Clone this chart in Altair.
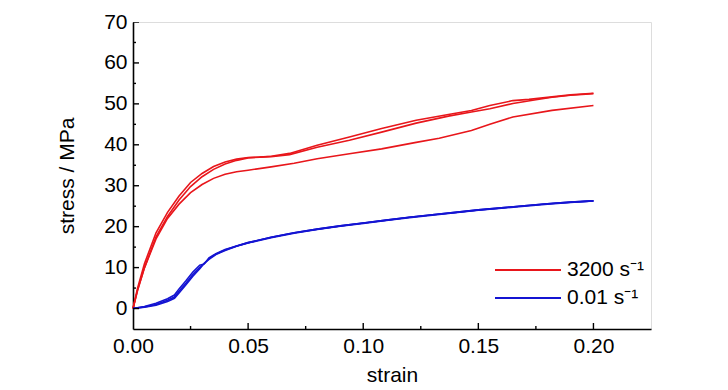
import altair as alt
import pandas as pd

# ---- data ----
red_a_strain = [0, 0.002, 0.005, 0.01, 0.015, 0.02, 0.025, 0.03, 0.035, 0.04, 0.045, 0.05, 0.055, 0.06, 0.068,
                0.08, 0.094, 0.108, 0.123, 0.137, 0.147, 0.155, 0.165, 0.172, 0.182, 0.19, 0.2]
red_a_stress = [0, 5, 11, 18.5, 23.5, 27.5, 30.8, 33, 34.7, 35.8, 36.5, 36.9, 37, 37.2, 37.9,
                39.9, 41.9, 44, 46, 47.4, 48.4, 49.6, 50.8, 51.1, 51.7, 52.2, 52.6]

red_b_strain = [0, 0.002, 0.005, 0.01, 0.015, 0.02, 0.025, 0.03, 0.035, 0.04, 0.045, 0.05, 0.055, 0.06, 0.068,
                0.08, 0.094, 0.108, 0.123, 0.137, 0.147, 0.155, 0.165, 0.175, 0.182, 0.19, 0.2]
red_b_stress = [0, 4.5, 10, 17.5, 22.5, 26.5, 29.8, 32.2, 34, 35.3, 36.2, 36.8, 37.0, 37.1, 37.6,
                39.4, 41.1, 43.1, 45.3, 47.0, 48, 48.8, 50.1, 51, 51.6, 52.1, 52.5]

red_c_strain = [0, 0.002, 0.005, 0.01, 0.015, 0.02, 0.025, 0.03, 0.035, 0.04, 0.045, 0.05, 0.06, 0.07,
                0.08, 0.094, 0.108, 0.123, 0.133, 0.147, 0.155, 0.165, 0.182, 0.2]
red_c_stress = [0, 4.5, 10, 17, 22, 25.5, 28.3, 30.3, 31.8, 32.8, 33.4, 33.8, 34.6, 35.5,
                36.6, 37.8, 39.0, 40.6, 41.6, 43.5, 45.0, 46.8, 48.4, 49.6]

blue_strain = [0, 0.005, 0.01, 0.015, 0.018, 0.02, 0.023, 0.026, 0.029, 0.031, 0.033, 0.036, 0.04, 0.045,
               0.05, 0.06, 0.07, 0.08, 0.09, 0.1, 0.11, 0.12, 0.13, 0.14, 0.15, 0.16, 0.17, 0.18, 0.19, 0.2]
blue_a_stress = [0, 0.4, 1.0, 2.0, 2.8, 4.2, 6.2, 8.3, 10.0, 11.0, 12.2, 13.3, 14.3, 15.3,
                 16.1, 17.4, 18.5, 19.4, 20.2, 20.9, 21.6, 22.3, 22.9, 23.5, 24.1, 24.6, 25.1, 25.6, 26.0, 26.3]
blue_b_stress = [0, 0.5, 1.3, 2.4, 3.3, 4.8, 6.8, 8.9, 10.6, 10.9, 12.4, 13.4, 14.4, 15.3,
                 16.1, 17.4, 18.5, 19.4, 20.2, 20.9, 21.6, 22.3, 22.9, 23.5, 24.1, 24.6, 25.1, 25.6, 26.0, 26.3]
blue_c_stress = [0, 0.3, 0.8, 1.7, 2.5, 3.8, 5.8, 7.9, 9.7, 11.1, 12.0, 13.2, 14.2, 15.2,
                 16.0, 17.3, 18.4, 19.3, 20.1, 20.8, 21.5, 22.2, 22.8, 23.4, 24.0, 24.5, 25.0, 25.5, 25.9, 26.3]

series_labels = ["3200 s\u207b\u00b9", "0.01 s\u207b\u00b9"]
series_colors = ["#e8161b", "#1414d2"]

x_major = [0, 0.05, 0.10, 0.15, 0.20]
x_minor = [0.025, 0.075, 0.125, 0.175]
y_major = [0, 10, 20, 30, 40, 50, 60, 70]
y_minor = [5, 15, 25, 35, 45, 55, 65]

rows = []
def add(run, label, xs, ys):
    for i, (a, b) in enumerate(zip(xs, ys)):
        rows.append({"run": run, "series": label, "strain": a, "stress": b, "order": i})

add("r1", series_labels[0], red_a_strain, red_a_stress)
add("r2", series_labels[0], red_b_strain, red_b_stress)
add("r3", series_labels[0], red_c_strain, red_c_stress)
add("b1", series_labels[1], blue_strain, blue_a_stress)
add("b2", series_labels[1], blue_strain, blue_b_stress)
add("b3", series_labels[1], blue_strain, blue_c_stress)
df = pd.DataFrame(rows)

W, H = 518, 307
FONT = "Liberation Sans"
X_MIN, X_MAX = 0, 0.225
Y_MIN, Y_MAX = -5, 70

xscale = alt.Scale(domain=[X_MIN, X_MAX], nice=False, zero=False)
yscale = alt.Scale(domain=[Y_MIN, Y_MAX], nice=False, zero=False)

xaxis = alt.Axis(values=x_major, format=".2f", ticks=False, tickSize=0, labelPadding=6,
                 labelFlush=False, labelOverlap=False,
                 labelFontSize=21, titleFontSize=21, titlePadding=8, grid=False,
                 domainColor="black", domainWidth=1.6, labelFont=FONT, titleFont=FONT,
                 labelColor="black", titleColor="black", titleFontWeight="normal")
yaxis = alt.Axis(values=y_major, ticks=False, tickSize=0, labelPadding=6,
                 labelFlush=False, labelOverlap=False,
                 labelFontSize=21, titleFontSize=21, titlePadding=26, grid=False,
                 domainColor="black", domainWidth=1.6, labelFont=FONT, titleFont=FONT,
                 labelColor="black", titleColor="black", titleFontWeight="normal")
XT, YT = "strain", "stress / MPa"

lines = alt.Chart(df).mark_line(strokeWidth=1.6).encode(
    x=alt.X("strain:Q", scale=xscale, title=XT, axis=xaxis),
    y=alt.Y("stress:Q", scale=yscale, title=YT, axis=yaxis),
    color=alt.Color("series:N", scale=alt.Scale(domain=series_labels, range=series_colors),
                    legend=alt.Legend(title=None, orient="none", legendX=384, legendY=237,
                                      symbolType="M-3.3,0H3.3", symbolSize=400, symbolStrokeWidth=2,
                                      labelFontSize=21, labelFont=FONT, labelColor="black",
                                      labelOffset=28, rowPadding=7, padding=0)),
    detail="run:N",
    order="order:Q",
)

# inward ticks (Origin style), positioned through the shared scales and clipped to the frame
xt_major = pd.DataFrame({"v": x_major})
xt_minor = pd.DataFrame({"v": x_minor})
yt_major = pd.DataFrame({"v": y_major})
yt_minor = pd.DataFrame({"v": y_minor})

def xticks(d, size):
    return alt.Chart(d).mark_tick(orient="vertical", size=size, thickness=1.4, color="black",
                                  clip=True, opacity=1).encode(
        x=alt.X("v:Q", scale=xscale, title=XT, axis=xaxis),
        y=alt.YDatum(Y_MIN, scale=yscale, title=YT, axis=yaxis),
    )

def yticks(d, size):
    return alt.Chart(d).mark_tick(orient="horizontal", size=size, thickness=1.4, color="black",
                                  clip=True, opacity=1).encode(
        y=alt.Y("v:Q", scale=yscale, title=YT, axis=yaxis),
        x=alt.XDatum(X_MIN, scale=xscale, title=XT, axis=xaxis),
    )

chart = alt.layer(
    lines,
    xticks(xt_major, 12), xticks(xt_minor, 6),
    yticks(yt_major, 12), yticks(yt_minor, 6),
).properties(
    width=W, height=H,
    autosize=alt.AutoSizeParams(type="none"),
    padding={"left": 125, "top": 14, "right": 40, "bottom": 60},
).configure_view(stroke="black", strokeWidth=1.6).configure(background="white")

chart.save("out.html", embed_options={"renderer": "svg", "actions": False})
